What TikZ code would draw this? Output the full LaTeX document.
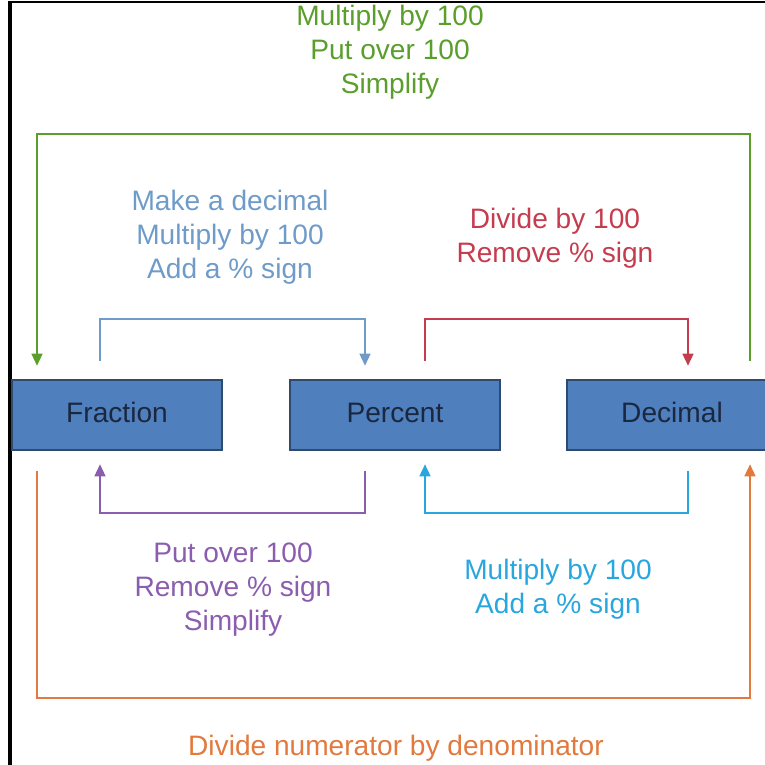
\documentclass[tikz,border=0pt]{standalone}
\usepackage{fontspec}
\setmainfont{Liberation Sans}
\usetikzlibrary{calc,arrows.meta}
\definecolor{boxfill}{HTML}{4F7FBC}
\definecolor{boxedge}{HTML}{2E4B6E}
\definecolor{boxtext}{HTML}{1A2740}
\definecolor{convgreen}{HTML}{5A9E2C}
\definecolor{convblue}{HTML}{6F9BC8}
\definecolor{convred}{HTML}{C63C4F}
\definecolor{convpurple}{HTML}{8B5DAE}
\definecolor{convcyan}{HTML}{2AA6DE}
\definecolor{convorange}{HTML}{E2793E}
\begin{document}
\begin{tikzpicture}[x=0.02cm, y=0.02cm,
		kind/.style={draw=boxedge, line width=1.2pt, fill=boxfill, text=boxtext,
			minimum width=4.2cm, minimum height=1.4cm, inner sep=0pt,
			text height=11.5pt, text depth=3.5pt,
			font=\fontsize{16}{19.3}\selectfont},
		rule/.style={align=center, font=\fontsize{16}{19.3}\selectfont},
		conv/.style={line width=1.6pt, -{Triangle[length=7pt,width=6pt]}}]
			\useasboundingbox (0,0) rectangle (765,765);
			\draw[line width=1pt] (10,763) -- (765,763);
			\draw[line width=2pt] (10,0) -- (10,764);
			% the three forms
			\node[kind] (frac) at (117,350) {Fraction};
			\node[kind] (pct) at (395,350) {Percent};
			\node[kind] (dec) at (672,350) {Decimal};
			% arrows above the boxes
			\draw[conv, convgreen] ($(dec.north)+(78,18)$) -- ++(0,227) -| ($(frac.north)+(-80,13)$);
			\draw[conv, convblue] ($(frac.north)+(-17,18)$) -- ++(0,42) -| ($(pct.north)+(-30,13)$);
			\draw[conv, convred] ($(pct.north)+(30,18)$) -- ++(0,42) -| ($(dec.north)+(16,13)$);
			% arrows below the boxes
			\draw[conv, convpurple] ($(pct.south)+(-30,-20)$) -- ++(0,-42) -| ($(frac.south)+(-17,-13)$);
			\draw[conv, convcyan] ($(dec.south)+(16,-20)$) -- ++(0,-42) -| ($(pct.south)+(30,-13)$);
			\draw[conv, convorange] ($(frac.south)+(-80,-20)$) -- ++(0,-227) -| ($(dec.south)+(78,-13)$);
			% the steps
			\node[rule, text=convgreen] (dectofrac) at (390,713) {Multiply by 100\\Put over 100\\Simplify};
			\node[rule, text=convblue] (fractopct) at (230,528) {Make a decimal\\Multiply by 100\\Add a \% sign};
			\node[rule, text=convred] (pcttodec) at (555,527) {Divide by 100\\Remove \% sign};
			\node[rule, text=convpurple] (pcttofrac) at (233,175) {Put over 100\\Remove \% sign\\Simplify};
			\node[rule, text=convcyan] (dectopct) at (558,176) {Multiply by 100\\Add a \% sign};
			\node[rule, text=convorange] (fractodec) at (396,17) {Divide numerator by denominator};
		\end{tikzpicture}
\end{document}
